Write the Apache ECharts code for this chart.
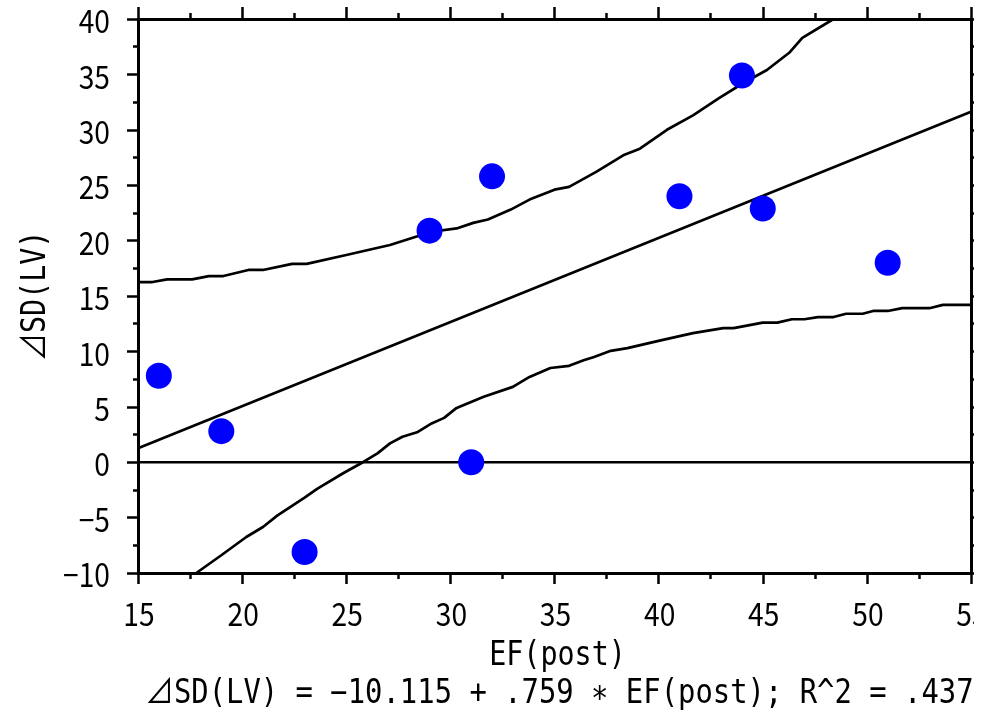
<!DOCTYPE html>
<html>
<head>
<meta charset="utf-8">
<script src="https://cdn.jsdelivr.net/npm/echarts@6/dist/echarts.min.js"></script>
<style>
  html, body { margin: 0; padding: 0; background: #fff; }
  #chart { width: 994px; height: 713px; }
</style>
</head>
<body>
<div id="chart"></div>
<script>
// Observations: EF(post) vs ⊿SD(LV)
var efPost = [16, 19, 23, 29, 31, 32, 41, 44, 45, 51];
var dSdLv  = [7.8, 2.8, -8.1, 20.9, 0, 25.8, 24.0, 34.9, 22.9, 18.0];

// Fitted line coefficients
var intercept = -10.115;
var slope = 0.759;
var rSquared = '.437';

// Upper 95% confidence band (x, y)
var upperX = [15, 15.7, 16.4, 17.6, 18.4, 19.1, 20.3, 21.0, 22.4, 23.1, 25.0, 27.1, 29.1, 30.3, 31.1, 31.8, 32.9, 33.8, 35.0, 35.7, 37.0, 38.3, 39.1, 40.4, 41.65, 42.9, 44.05, 45.2, 46.3, 46.9, 48.4];
var upperY = [16.26, 16.26, 16.5, 16.5, 16.8, 16.8, 17.35, 17.35, 17.9, 17.9, 18.7, 19.6, 20.8, 21.1, 21.6, 21.9, 22.8, 23.7, 24.6, 24.85, 26.2, 27.7, 28.3, 30.0, 31.3, 32.85, 34.2, 35.4, 37.0, 38.3, 40.0];

// Lower 95% confidence band (x, y)
var lowerX = [17.8, 19.0, 20.2, 21.0, 21.7, 23.0, 23.6, 24.85, 25.8, 26.5, 27.1, 27.7, 28.4, 29.1, 29.7, 30.3, 31.6, 33.0, 33.8, 34.8, 35.7, 36.4, 36.9, 37.7, 38.5, 40.1, 41.65, 43.1, 43.6, 45.0, 45.7, 46.4, 47.0, 47.65, 48.4, 49.0, 49.8, 50.3, 51.0, 51.7, 53.0, 53.65, 55.0];
var lowerY = [-10.0, -8.4, -6.75, -5.85, -4.8, -3.2, -2.4, -1.0, 0.0, 0.8, 1.7, 2.3, 2.7, 3.5, 4.0, 4.9, 5.9, 6.8, 7.7, 8.5, 8.7, 9.2, 9.5, 10.05, 10.3, 11.0, 11.65, 12.1, 12.1, 12.6, 12.6, 12.9, 12.9, 13.1, 13.1, 13.4, 13.4, 13.65, 13.65, 13.9, 13.9, 14.2, 14.2];

// Axis ranges and tick labels
var xMin = 15, xMax = 55, xStep = 5;
var yMin = -10, yMax = 40, yStep = 5;
var xTickLabels = ['15', '20', '25', '30', '35', '40', '45', '50', '55'];
var yTickLabels = ['−10', '−5', '0', '5', '10', '15', '20', '25', '30', '35', '40'];

// Titles
var xTitle = 'EF(post)';
var yTitle = '⊿SD(LV)';
var fitText = '⊿SD(LV) = −10.115 + .759 ∗ EF(post); R^2 = ' + rSquared;

// Gothic face for the numbers, fixed-pitch face for the titles; both squeezed horizontally
var GOTHIC = '"Noto Sans CJK JP", "Noto Sans", sans-serif';
var MONO = '"DejaVu Sans Mono", "Noto Sans CJK JP", monospace';
var TICK_FONT = '32px ' + GOTHIC;
var TICK_SX = 0.88;
var TITLE_FONT = '33px ' + MONO;
var TITLE_SX = 0.86;
var FIT_SX = 0.875;

function pairs(xs, ys) {
  return xs.map(function (x, i) { return [x, ys[i]]; });
}

var chart = echarts.init(document.getElementById('chart'), null, { renderer: 'canvas' });

var axisLineStyle = { color: '#000', width: 3 };
var tickStyle = { color: '#000', width: 2.5 };
var curveWidth = 2.7;

function axisBase(extra) {
  return Object.assign({
    type: 'value',
    axisLine: { show: true, onZero: false, lineStyle: axisLineStyle },
    axisTick: { show: true, inside: false, length: 11, lineStyle: tickStyle },
    minorTick: { show: true, splitNumber: 2, length: 6, lineStyle: tickStyle },
    axisLabel: { show: false },
    splitLine: { show: false }
  }, extra);
}

var option = {
  animation: false,
  backgroundColor: '#fff',
  grid: { left: 138, top: 19, right: 23, bottom: 140, containLabel: false },
  xAxis: [
    axisBase({ min: xMin, max: xMax, interval: xStep, position: 'bottom' }),
    axisBase({ min: xMin, max: xMax, interval: xStep, position: 'top',
      axisTick: { show: true, inside: false, length: 12, lineStyle: tickStyle } })
  ],
  yAxis: [
    axisBase({ min: yMin, max: yMax, interval: yStep, position: 'left',
      minorTick: { show: true, splitNumber: 2, length: 5, lineStyle: tickStyle } }),
    axisBase({ min: yMin, max: yMax, interval: yStep, position: 'right' })
  ],
  series: [
    {
      name: 'zero', type: 'line', showSymbol: false, symbol: 'none',
      data: [[xMin, 0], [xMax, 0]],
      lineStyle: { color: '#000', width: 2.4 }, z: 2
    },
    {
      name: 'fit', type: 'line', showSymbol: false, symbol: 'none',
      data: [[xMin, intercept + slope * xMin], [xMax, intercept + slope * xMax]],
      lineStyle: { color: '#000', width: curveWidth }, z: 2
    },
    {
      name: 'upper', type: 'line', showSymbol: false, symbol: 'none',
      data: pairs(upperX, upperY),
      lineStyle: { color: '#000', width: curveWidth }, z: 2
    },
    {
      name: 'lower', type: 'line', showSymbol: false, symbol: 'none',
      data: pairs(lowerX, lowerY),
      lineStyle: { color: '#000', width: curveWidth }, z: 2
    },
    {
      name: 'obs', type: 'scatter', symbol: 'circle', symbolSize: 26,
      data: pairs(efPost, dSdLv),
      itemStyle: { color: '#0000ff', opacity: 1 }, z: 5
    }
  ]
};

chart.setOption(option);

// Tick labels and titles, placed through the axis scales
var texts = [];
var gridRect = chart.getModel().getComponent('grid').coordinateSystem.getRect();
var axisBottom = gridRect.y + gridRect.height;
var axisLeft = gridRect.x;

xTickLabels.forEach(function (lbl, i) {
  var v = xMin + i * xStep;
  var px = chart.convertToPixel({ xAxisIndex: 0 }, v);
  texts.push({
    type: 'text', x: px + 1, y: axisBottom + 41, scaleX: TICK_SX, z: 50, silent: true,
    style: { text: lbl, font: TICK_FONT, fill: '#000', align: 'center', verticalAlign: 'middle' }
  });
});

yTickLabels.forEach(function (lbl, i) {
  var v = yMin + i * yStep;
  var py = chart.convertToPixel({ yAxisIndex: 0 }, v);
  texts.push({
    type: 'text', x: axisLeft - 28, y: py + 2, scaleX: TICK_SX, z: 50, silent: true,
    style: { text: lbl, font: TICK_FONT, fill: '#000', align: 'right', verticalAlign: 'middle' }
  });
});

// Axis titles
texts.push({
  type: 'text', x: gridRect.x + gridRect.width / 2 + 3, y: 656, scaleX: TITLE_SX, z: 50, silent: true,
  style: { text: xTitle, font: TITLE_FONT, fill: '#000', align: 'center', verticalAlign: 'middle' }
});
texts.push({
  type: 'text', x: 36, y: gridRect.y + gridRect.height / 2, rotation: Math.PI / 2,
  scaleX: TITLE_SX, z: 50, silent: true,
  style: { text: yTitle, font: TITLE_FONT, fill: '#000', align: 'center', verticalAlign: 'middle' }
});

// Fit equation below the axis title
texts.push({
  type: 'text', x: 145, y: 694, scaleX: FIT_SX, z: 50, silent: true,
  style: { text: fitText, font: TITLE_FONT, fill: '#000', align: 'left', verticalAlign: 'middle' }
});

// Right margin trim
texts.push({
  type: 'rect', z: 100, silent: true,
  shape: { x: 974, y: 0, width: 20, height: 713 },
  style: { fill: '#fff' }
});

chart.setOption({ graphic: texts });
</script>
</body>
</html>
